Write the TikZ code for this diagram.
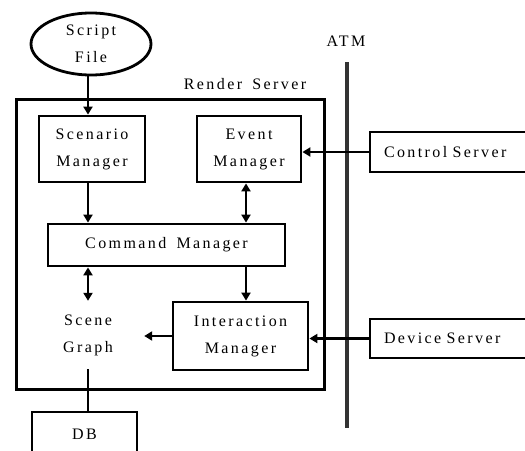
\documentclass[tikz,border=0pt]{standalone}
\usepackage{fontspec}
\setmainfont{Liberation Serif}[LetterSpace=15,WordSpace=1.6]
\usetikzlibrary{shapes.geometric,arrows.meta}
\begin{document}
\begin{tikzpicture}[x=1pt,y=-1pt,
 txt/.style={inner sep=0pt,align=center,font=\fontsize{16}{27}\selectfont},
 box/.style={txt,draw,line width=2.8pt},
 conn/.style={line width=2.4pt},
 arr/.style={conn,-{Triangle[length=8pt,width=9pt]}},
 darr/.style={conn,{Triangle[length=8pt,width=9pt]}-{Triangle[length=8pt,width=9pt]}}]
\useasboundingbox[fill=white] (0,0) rectangle (525,450);
\node[box,line width=3pt,minimum width=308pt,minimum height=290pt] (rs) at (170,244) {};
\node[txt] (rsl) at (245,84) {Render Server};
\node[box,ellipse,minimum width=120pt,minimum height=62pt] (sf) at (91,44) {Script\\File};
\node[box,minimum width=106pt,minimum height=66pt] (sm) at (92,149) {Scenario\\Manager};
\node[box,minimum width=104pt,minimum height=66pt] (em) at (249,149) {Event\\Manager};
\node[box,minimum width=237pt,minimum height=42pt] (cm) at (166.5,245) {Command Manager};
\node[box,minimum width=135pt,minimum height=68pt] (im) at (240.5,336) {Interaction\\Manager};
\node[txt,minimum width=112pt,minimum height=68pt] (sg) at (88,335) {Scene\\Graph};
\node[box,minimum width=105pt,minimum height=44pt] (db) at (84.5,434) {DB};
\node[box,text width=140pt,align=left,inner xsep=14pt,minimum height=40pt] (cs) at (454,152) {Control Server};
\node[box,text width=140pt,align=left,inner xsep=14pt,minimum height=39pt] (ds) at (454,338.5) {Device Server};
\node[txt] (atml) at (346,41) {ATM};
\coordinate (atmt) at (347,62);
\coordinate (atmb) at (347,428);
\coordinate (vx) at (246,0);
\draw[line width=3.5pt,black!80] (atmt) -- (atmb);
\draw[arr] (sf.south -| sg.north) -- (sm.north -| sg.north);
\draw[arr] (sm.south -| sg.north) -- (cm.north -| sg.north);
\draw[darr] (em.south -| vx) -- (cm.north -| vx);
\draw[darr] (cm.south -| sg.north) -- (sg.north);
\draw[arr] (cm.south -| vx) -- (im.north -| vx);
\draw[arr] (im.west) -- (im.west -| sg.east);
\draw[conn] (sg.south) -- (sg.south |- db.north);
\draw[arr] (cs.west) -- (cs.west -| em.east);
\draw[arr] (ds.west) -- (ds.west -| im.east);
\end{tikzpicture}
\end{document}
